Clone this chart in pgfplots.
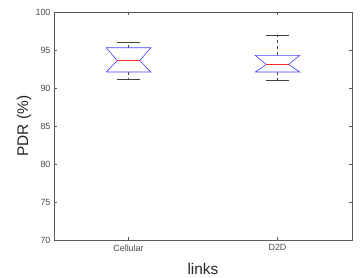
\documentclass[border=0pt]{standalone}
\usepackage{pgfplots}
\pgfplotsset{compat=1.18}
\usepackage{fontspec}
\setmainfont{Liberation Sans}
\begin{document}
\begin{tikzpicture}[x=1bp,y=1bp]
\begin{axis}[name=ax, at={(0,0)}, anchor=south west,
  scale only axis, width=298bp, height=228bp,
  xmin=0.5, xmax=2.5, ymin=70, ymax=100,
  xtick={1,2}, xticklabels={Cellular,D2D},
  ytick={70,75,...,100},
  tick align=inside, major tick length=3bp,
  axis line style={draw=black!65}, tick style={draw=black!65},
  ticklabel style={font=\fontsize{9}{10}\selectfont, text=black!70},
  /pgf/number format/assume math mode=true,
  ylabel={PDR (\%)}, xlabel={links},
  label style={font=\fontsize{15.5}{17}\selectfont, text=black!85},
  ylabel style={at={(axis description cs:-0.1,0.5)}, anchor=center},
  xlabel style={at={(axis description cs:0.5,-0.127)}, anchor=center},
  xticklabel style={yshift=-1bp},
  clip=false,
]
% whiskers
\addplot[black!75, dashed, line width=0.5pt] coordinates {(1,95.3) (1,96.0)};
\addplot[black!75, dashed, line width=0.5pt] coordinates {(1,92.1) (1,91.1)};
\addplot[black!75, line width=0.5pt] coordinates {(0.925,96.0) (1.075,96.0)};
\addplot[black!75, line width=0.5pt] coordinates {(0.925,91.1) (1.075,91.1)};
\addplot[black!75, dashed, line width=0.5pt] coordinates {(2,94.3) (2,97.0)};
\addplot[black!75, dashed, line width=0.5pt] coordinates {(2,92.1) (2,91.05)};
\addplot[black!75, line width=0.5pt] coordinates {(1.925,97.0) (2.075,97.0)};
\addplot[black!75, line width=0.5pt] coordinates {(1.925,91.05) (2.075,91.05)};
% notched boxes
\addplot[blue!75, line width=0.6pt] coordinates {(0.85,92.1) (0.925,93.6) (0.85,95.3) (1.15,95.3) (1.075,93.6) (1.15,92.1) (0.85,92.1)};
\addplot[red!85, line width=0.6pt] coordinates {(0.925,93.6) (1.075,93.6)};
\addplot[blue!75, line width=0.6pt] coordinates {(1.85,92.1) (1.925,93.1) (1.85,94.3) (2.15,94.3) (2.075,93.1) (2.15,92.1) (1.85,92.1)};
\addplot[red!85, line width=0.6pt] coordinates {(1.925,93.1) (2.075,93.1)};
\end{axis}
\pgfresetboundingbox
\path (ax.south west) ++(-54bp,-38bp) rectangle ([shift={(11bp,12bp)}]ax.north east);
\end{tikzpicture}
\end{document}
